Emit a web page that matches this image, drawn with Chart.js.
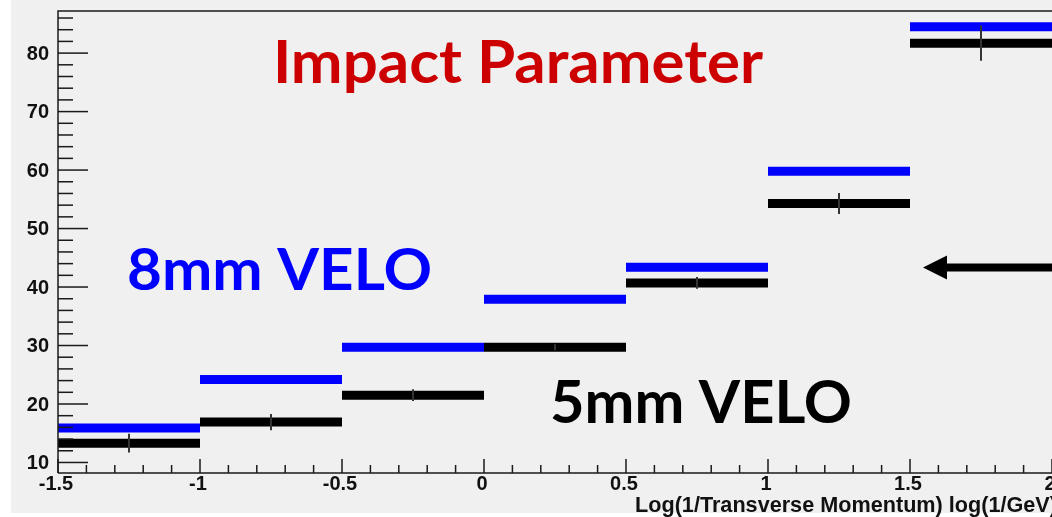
<!DOCTYPE html>
<html>
<head>
<meta charset="utf-8">
<script src="https://cdn.jsdelivr.net/npm/chart.js@4.4.1/dist/chart.umd.min.js"></script>
<style>
  html, body { margin: 0; padding: 0; background: #ffffff; overflow: hidden; }
  #wrap { width: 1052px; height: 517px; }
</style>
</head>
<body>
<div id="wrap"><canvas id="ipChart" width="1052" height="517"></canvas></div>
<script>
// histogram bins in log(1/pT)
const binEdges = [-1.5, -1, -0.5, 0, 0.5, 1, 1.5, 2];
const velo8 = [15.9, 24.2, 29.7, 37.9, 43.4, 59.8, 84.5];   // 8mm VELO (blue)
const velo5 = [13.3, 16.9, 21.5, 29.7, 40.7, 54.3, 81.7];   // 5mm VELO (black)
const velo5Err = [1.6, 1.4, 1.0, 0.5, 1.0, 1.8, 3.0];

const xTicks = [-1.5, -1, -0.5, 0, 0.5, 1, 1.5, 2];
const xTickLabels = ['-1.5', '-1', '-0.5', '0', '0.5', '1', '1.5', '2'];
const yTicks = [10, 20, 30, 40, 50, 60, 70, 80];
const yTickLabels = ['10', '20', '30', '40', '50', '60', '70', '80'];

const xTitle = 'Log(1/Transverse Momentum) log(1/GeV)';
const plotTitle = 'Impact Parameter';

// flat steps with a gap between bins
function steps(vals) {
    let out = [];
    vals.forEach((v, i) => {
        out.push({ x: binEdges[i], y: v });
        out.push({ x: binEdges[i + 1], y: v });
        out.push({ x: binEdges[i + 1], y: null });
    });
    return out;
}

// draw text stretched to a given width
function fitText(ctx, txt, x, y, w, font, color) {
    ctx.save();
    ctx.font = font;
    ctx.fillStyle = color;
    ctx.textAlign = 'left';
    ctx.textBaseline = 'alphabetic';
    const m = ctx.measureText(txt).width;
    ctx.translate(x, y);
    ctx.scale(w / m, 1);
    ctx.fillText(txt, 0, 0);
    ctx.restore();
}

const rootStyle = {
    id: 'rootStyle',
    beforeDraw(chart) {
        const ctx = chart.ctx;
        ctx.save();
        ctx.fillStyle = '#ffffff';
        ctx.fillRect(0, 0, chart.width, chart.height);
        ctx.fillStyle = '#f0f0f0';
        ctx.fillRect(11, 0, chart.width - 11, 513);
        ctx.restore();
    },
    afterDatasetsDraw(chart) {
        const ctx = chart.ctx, xs = chart.scales.x, ys = chart.scales.y;
        // error bars on the 5mm points
        ctx.save();
        ctx.strokeStyle = '#333';
        ctx.lineWidth = 2;
        velo5.forEach((v, i) => {
            const cx = xs.getPixelForValue((binEdges[i] + binEdges[i + 1]) / 2);
            ctx.beginPath();
            ctx.moveTo(cx, ys.getPixelForValue(v - velo5Err[i]));
            ctx.lineTo(cx, ys.getPixelForValue(v + velo5Err[i]));
            ctx.stroke();
        });
        ctx.restore();
    },
    afterDraw(chart) {
        const ctx = chart.ctx, xs = chart.scales.x, ys = chart.scales.y;
        const a = chart.chartArea;
        ctx.save();
        ctx.strokeStyle = '#1a1a1a';
        ctx.lineWidth = 1.5;
        // frame: left, top, bottom
        ctx.beginPath();
        ctx.moveTo(a.left, a.bottom); ctx.lineTo(a.left, a.top); ctx.lineTo(a.right, a.top);
        ctx.moveTo(a.left, a.bottom); ctx.lineTo(a.right, a.bottom);
        ctx.stroke();

        // y ticks (inward)
        for (let v = 10; v <= 86; v += 2) {
            const py = ys.getPixelForValue(v);
            const len = (v % 10 === 0) ? 30 : 15;
            ctx.beginPath(); ctx.moveTo(a.left, py); ctx.lineTo(a.left + len, py); ctx.stroke();
        }
        // x ticks (inward)
        for (let k = -15; k <= 20; k++) {
            const px = xs.getPixelForValue(k / 10);
            const len = (k % 5 === 0) ? 14 : 8;
            ctx.beginPath(); ctx.moveTo(px, a.bottom); ctx.lineTo(px, a.bottom - len); ctx.stroke();
        }

        // tick labels
        ctx.fillStyle = '#111';
        ctx.font = 'bold 20px "Liberation Sans", Arial, sans-serif';
        ctx.textAlign = 'right';
        ctx.textBaseline = 'middle';
        yTicks.forEach((v, i) => ctx.fillText(yTickLabels[i], 49, ys.getPixelForValue(v) + 1));
        ctx.textAlign = 'center';
        xTicks.forEach((v, i) => ctx.fillText(xTickLabels[i], xs.getPixelForValue(v) - 2, 484));

        // axis title, right aligned at the edge
        fitText(ctx, xTitle, 635, 512, 422, 'bold 22px "Liberation Sans", Arial, sans-serif', '#111');

        // annotations
        fitText(ctx, plotTitle, 273, 83, 490, 'bold 60px Lato, "Open Sans", sans-serif', '#cc0000');
        fitText(ctx, '8mm VELO', 127, 290, 305, 'bold 58px Lato, "Open Sans", sans-serif', '#0000ff');
        fitText(ctx, '5mm VELO', 550, 423, 302, 'bold 59px Lato, "Open Sans", sans-serif', '#000000');

        // arrow pointing left
        const ay = 267.5;
        ctx.fillStyle = '#000';
        ctx.fillRect(946, ay - 4, 110, 8);
        ctx.beginPath();
        ctx.moveTo(923, ay); ctx.lineTo(947, ay - 12); ctx.lineTo(947, ay + 12); ctx.closePath();
        ctx.fill();
        ctx.restore();
    }
};

const chart = new Chart(document.getElementById('ipChart').getContext('2d'), {
    type: 'line',
    data: {
        datasets: [
            { label: '5mm VELO', data: steps(velo5), borderColor: '#000000', borderWidth: 9, borderCapStyle: 'butt', pointRadius: 0, spanGaps: false },
            { label: '8mm VELO', data: steps(velo8), borderColor: '#0000ff', borderWidth: 9, borderCapStyle: 'butt', pointRadius: 0, spanGaps: false }
        ]
    },
    options: {
        responsive: false,
        animation: false,
        layout: { padding: { left: 58, top: 11, right: 0, bottom: 44 } },
        plugins: { legend: { display: false }, tooltip: { enabled: false } },
        scales: {
            x: { type: 'linear', min: -1.5, max: 2, display: false },
            y: { type: 'linear', min: 8.2, max: 87.2, display: false }
        }
    },
    plugins: [rootStyle]
});
</script>
</body>
</html>
